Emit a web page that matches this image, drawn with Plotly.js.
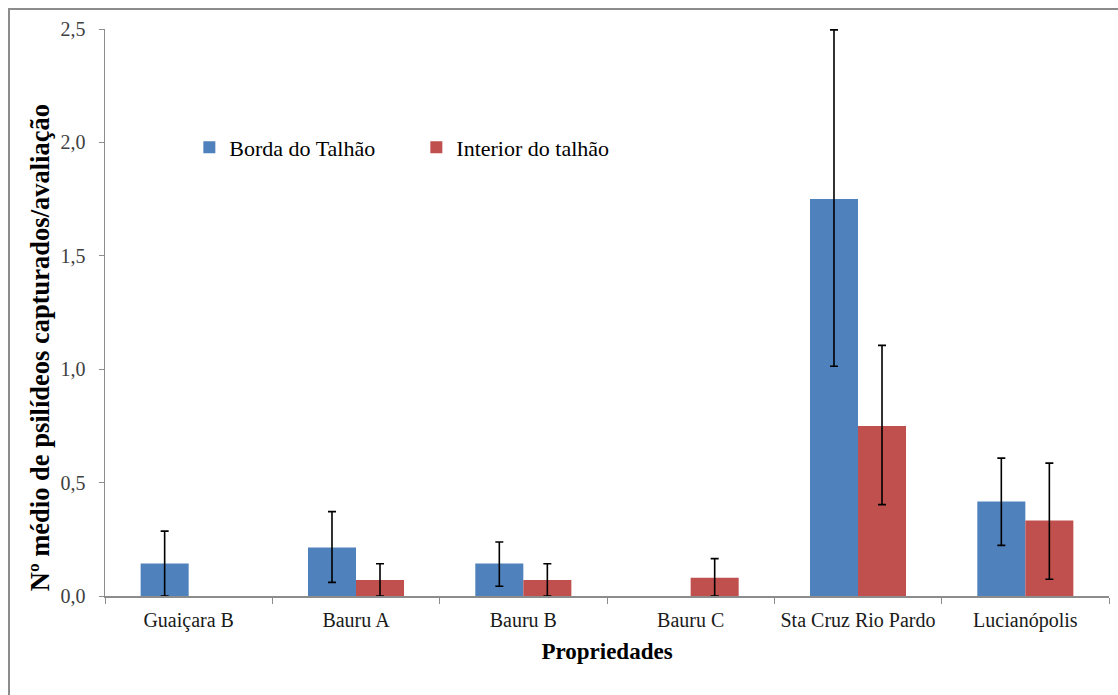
<!DOCTYPE html>
<html>
<head>
<meta charset="utf-8">
<script src="https://cdn.plot.ly/plotly-3.0.1.min.js"></script>
<style>
  html, body { margin: 0; padding: 0; background: #fff; }
  #wrap { position: relative; width: 1118px; height: 695px; overflow: hidden; }
  #chart { width: 1118px; height: 695px; }
  #frame { position: absolute; left: 8px; top: 8px; width: 1200px; height: 800px;
           border-left: 2px solid #8c8c8c; border-top: 2px solid #8c8c8c; pointer-events: none; }
</style>
</head>
<body>
<div id="wrap">
  <div id="chart"></div>
  <div id="frame"></div>
</div>
<script>
const categories = ["Guaiçara B", "Bauru A", "Bauru B", "Bauru C", "Sta Cruz Rio Pardo", "Lucianópolis"];

const bordaName = "Borda do Talhão";
const bordaMean = [0.143, 0.214, 0.143, 0, 1.75, 0.417];
const bordaUpper = [0.286, 0.372, 0.238, 0, 2.496, 0.608];
const bordaLower = [0.0, 0.060, 0.043, 0, 1.013, 0.223];

const interiorName = "Interior do talhão";
const interiorMean = [0, 0.071, 0.071, 0.080, 0.75, 0.333];
const interiorUpper = [0, 0.142, 0.142, 0.165, 1.105, 0.586];
const interiorLower = [0, 0.0, 0.0, 0.0, 0.403, 0.074];

const yTitle = "Nº médio de psilídeos capturados/avaliação";
const xTitle = "Propriedades";

const SERIF = "Liberation Serif, Times New Roman, serif";

function errPlus(mean, up) { return mean.map((m, i) => Math.max(up[i] - m, 0)); }
function errMinus(mean, lo) { return mean.map((m, i) => Math.max(m - lo[i], 0)); }
// a zero mean is drawn as no bar (and so no error bar)
function shown(mean) { return mean.map(m => m === 0 ? null : m); }

const errStyle = { type: "data", symmetric: false, color: "#000", thickness: 1.6, width: 4, visible: true };

const traces = [
  {
    type: "bar", name: bordaName, x: categories, y: shown(bordaMean),
    marker: { color: "#4F81BD" },
    error_y: Object.assign({}, errStyle, {
      array: errPlus(bordaMean, bordaUpper),
      arrayminus: errMinus(bordaMean, bordaLower)
    })
  },
  {
    type: "bar", name: interiorName, x: categories, y: shown(interiorMean),
    marker: { color: "#C0504D" },
    error_y: Object.assign({}, errStyle, {
      array: errPlus(interiorMean, interiorUpper),
      arrayminus: errMinus(interiorMean, interiorLower)
    })
  }
];

const layout = {
  width: 1118, height: 695,
  margin: { l: 105, r: 9, t: 29, b: 99, pad: 0 },
  font: { family: SERIF, color: "#000" },
  paper_bgcolor: "rgba(0,0,0,0)",
  plot_bgcolor: "#fff",
  separators: ",.",
  barmode: "group",
  bargap: 0.426,
  bargroupgap: 0,
  showlegend: true,
  legend: {
    orientation: "h",
    x: 0.084, xanchor: "left",
    y: 0.791, yanchor: "middle",
    font: { family: SERIF, size: 22, color: "#000" },
    entrywidth: 182, entrywidthmode: "pixels",
    bgcolor: "rgba(0,0,0,0)"
  },
  xaxis: {
    type: "category",
    showline: true, linecolor: "#8c8c8c", linewidth: 1.5,
    ticks: "outside", tickson: "boundaries", ticklen: 6, tickcolor: "#8c8c8c", tickwidth: 1,
    showgrid: false, zeroline: false,
    tickfont: { family: SERIF, size: 20, color: "#1a1a1a" },
    ticklabelstandoff: 5,
    title: { text: xTitle, font: { family: SERIF, size: 23, color: "#000", weight: "bold" }, standoff: 12 },
    automargin: false
  },
  yaxis: {
    range: [0, 2.5], dtick: 0.5, tick0: 0, tickformat: ".1f",
    showline: true, linecolor: "#8c8c8c", linewidth: 1.5,
    ticks: "outside", ticklen: 5, tickcolor: "#8c8c8c", tickwidth: 1,
    showgrid: false, zeroline: false,
    tickfont: { family: SERIF, size: 20, color: "#404040" },
    ticklabelstandoff: 9,
    automargin: false
  },
  annotations: [
    {
      text: "<b>" + yTitle + "</b>",
      xref: "paper", yref: "paper",
      x: -0.0647, y: 0.437,
      xanchor: "center", yanchor: "middle",
      textangle: -90, showarrow: false,
      font: { family: SERIF, size: 26.5, color: "#000" }
    }
  ]
};

Plotly.newPlot("chart", traces, layout, { displayModeBar: false, staticPlot: true });
</script>
</body>
</html>
